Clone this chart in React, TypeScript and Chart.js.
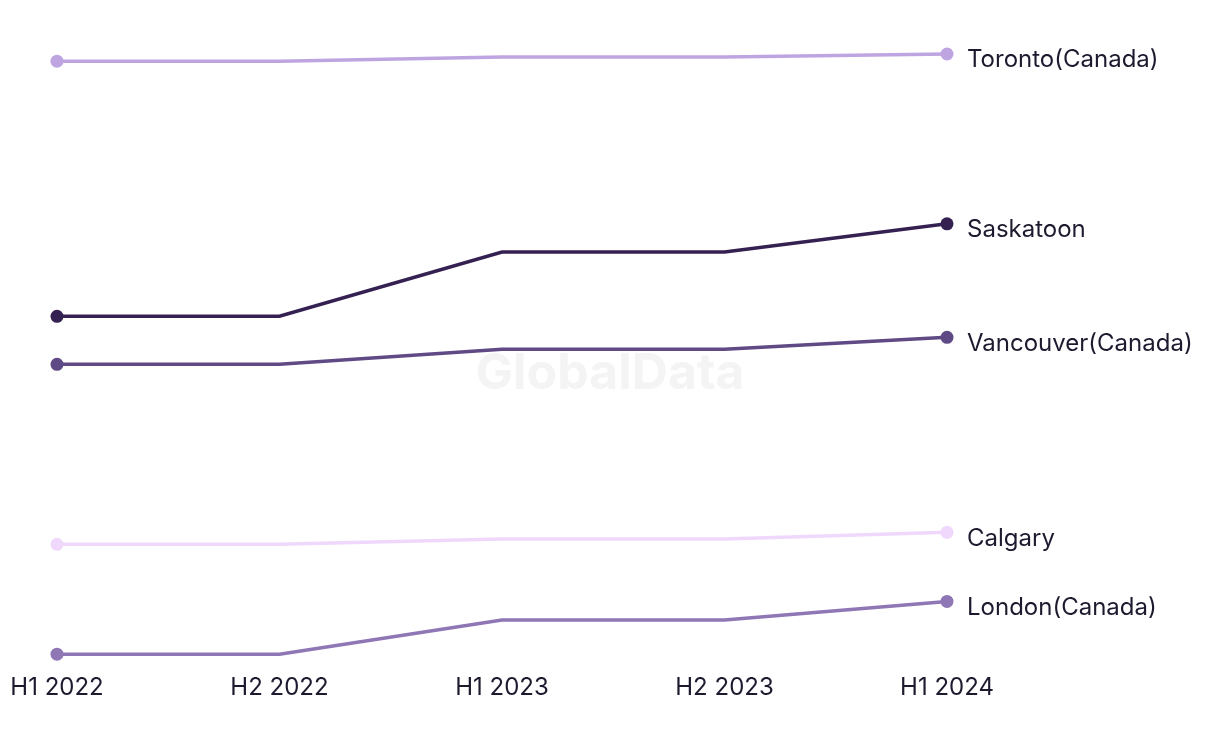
import React, { useEffect, useRef } from "react";
import { Chart, registerables } from "chart.js";

Chart.register(...registerables);

const periods = ["H1 2022", "H2 2022", "H1 2023", "H2 2023", "H1 2024"];
const cities = ["Toronto(Canada)", "Saskatoon", "Vancouver(Canada)", "Calgary", "London(Canada)"];
const toronto = [98.8, 98.8, 99.5, 99.5, 100];
const saskatoon = [56.3, 56.3, 67, 67, 71.7];
const vancouver = [48.3, 48.3, 50.8, 50.8, 52.8];
const calgary = [18.3, 18.3, 19.2, 19.2, 20.3];
const london = [0, 0, 5.7, 5.7, 8.8];
const seriesValues = [toronto, saskatoon, vancouver, calgary, london];
const colors = ["#bea5e2", "#342152", "#5f4a85", "#efd8fb", "#8f76b4"];

const FONT = "Inter, 'Noto Sans', sans-serif";
const TEXT = "#1c1a2e";

const endLabels = {
  id: "endLabels",
  afterDatasetsDraw(chart: any) {
    const ctx = chart.ctx;
    ctx.save();
    ctx.font = `24px ${FONT}`;
    ctx.fillStyle = TEXT;
    ctx.textAlign = "left";
    ctx.textBaseline = "middle";
    chart.data.datasets.forEach((ds: any, i: number) => {
      const meta = chart.getDatasetMeta(i);
      const pt = meta.data[meta.data.length - 1];
      ctx.fillText(ds.label, pt.x + 20, pt.y + 6);
    });
    ctx.restore();
  },
};

const watermark = {
  id: "watermark",
  beforeDatasetsDraw(chart: any) {
    const ctx = chart.ctx;
    ctx.save();
    ctx.font = `bold 50px ${FONT}`;
    ctx.fillStyle = "#f4f4f4";
    ctx.textAlign = "center";
    ctx.textBaseline = "middle";
    ctx.fillText("GlobalData", 610, 374);
    ctx.restore();
  },
};

export default function App() {
  const ref = useRef<HTMLCanvasElement>(null);
  useEffect(() => {
    if (!ref.current) return;
    const chart = new Chart(ref.current, {
      type: "line",
      data: {
        labels: periods,
        datasets: cities.map((c, i) => ({
          label: c,
          data: seriesValues[i],
          borderColor: colors[i],
          backgroundColor: colors[i],
          borderWidth: 3.5,
          tension: 0,
          pointRadius: [6.5, 0, 0, 0, 6.5],
          pointHoverRadius: 0,
          pointBorderWidth: 0,
          clip: false as any,
        })),
      },
      options: {
        animation: false,
        responsive: false,
        maintainAspectRatio: false,
        layout: { padding: { top: 54, left: 57, right: 273, bottom: 23 } },
        plugins: { legend: { display: false }, tooltip: { enabled: false } },
        scales: {
          x: {
            offset: false,
            grid: { display: false, drawTicks: false },
            border: { display: false },
            ticks: { color: TEXT, font: { family: FONT, size: 24 }, padding: 19, maxRotation: 0 },
            afterFit: (scale: any) => {
              scale.paddingLeft = 0;
              scale.paddingRight = 0;
            },
          },
          y: { display: false, min: 0, max: 100 },
        },
      },
      plugins: [watermark, endLabels],
    });
    return () => chart.destroy();
  }, []);
  return (
    <div style={{ position: "fixed", left: 0, top: 0, width: 1220, height: 744, background: "#fff" }}>
      <canvas ref={ref} width={1220} height={744} style={{ width: 1220, height: 744 }} />
    </div>
  );
}
